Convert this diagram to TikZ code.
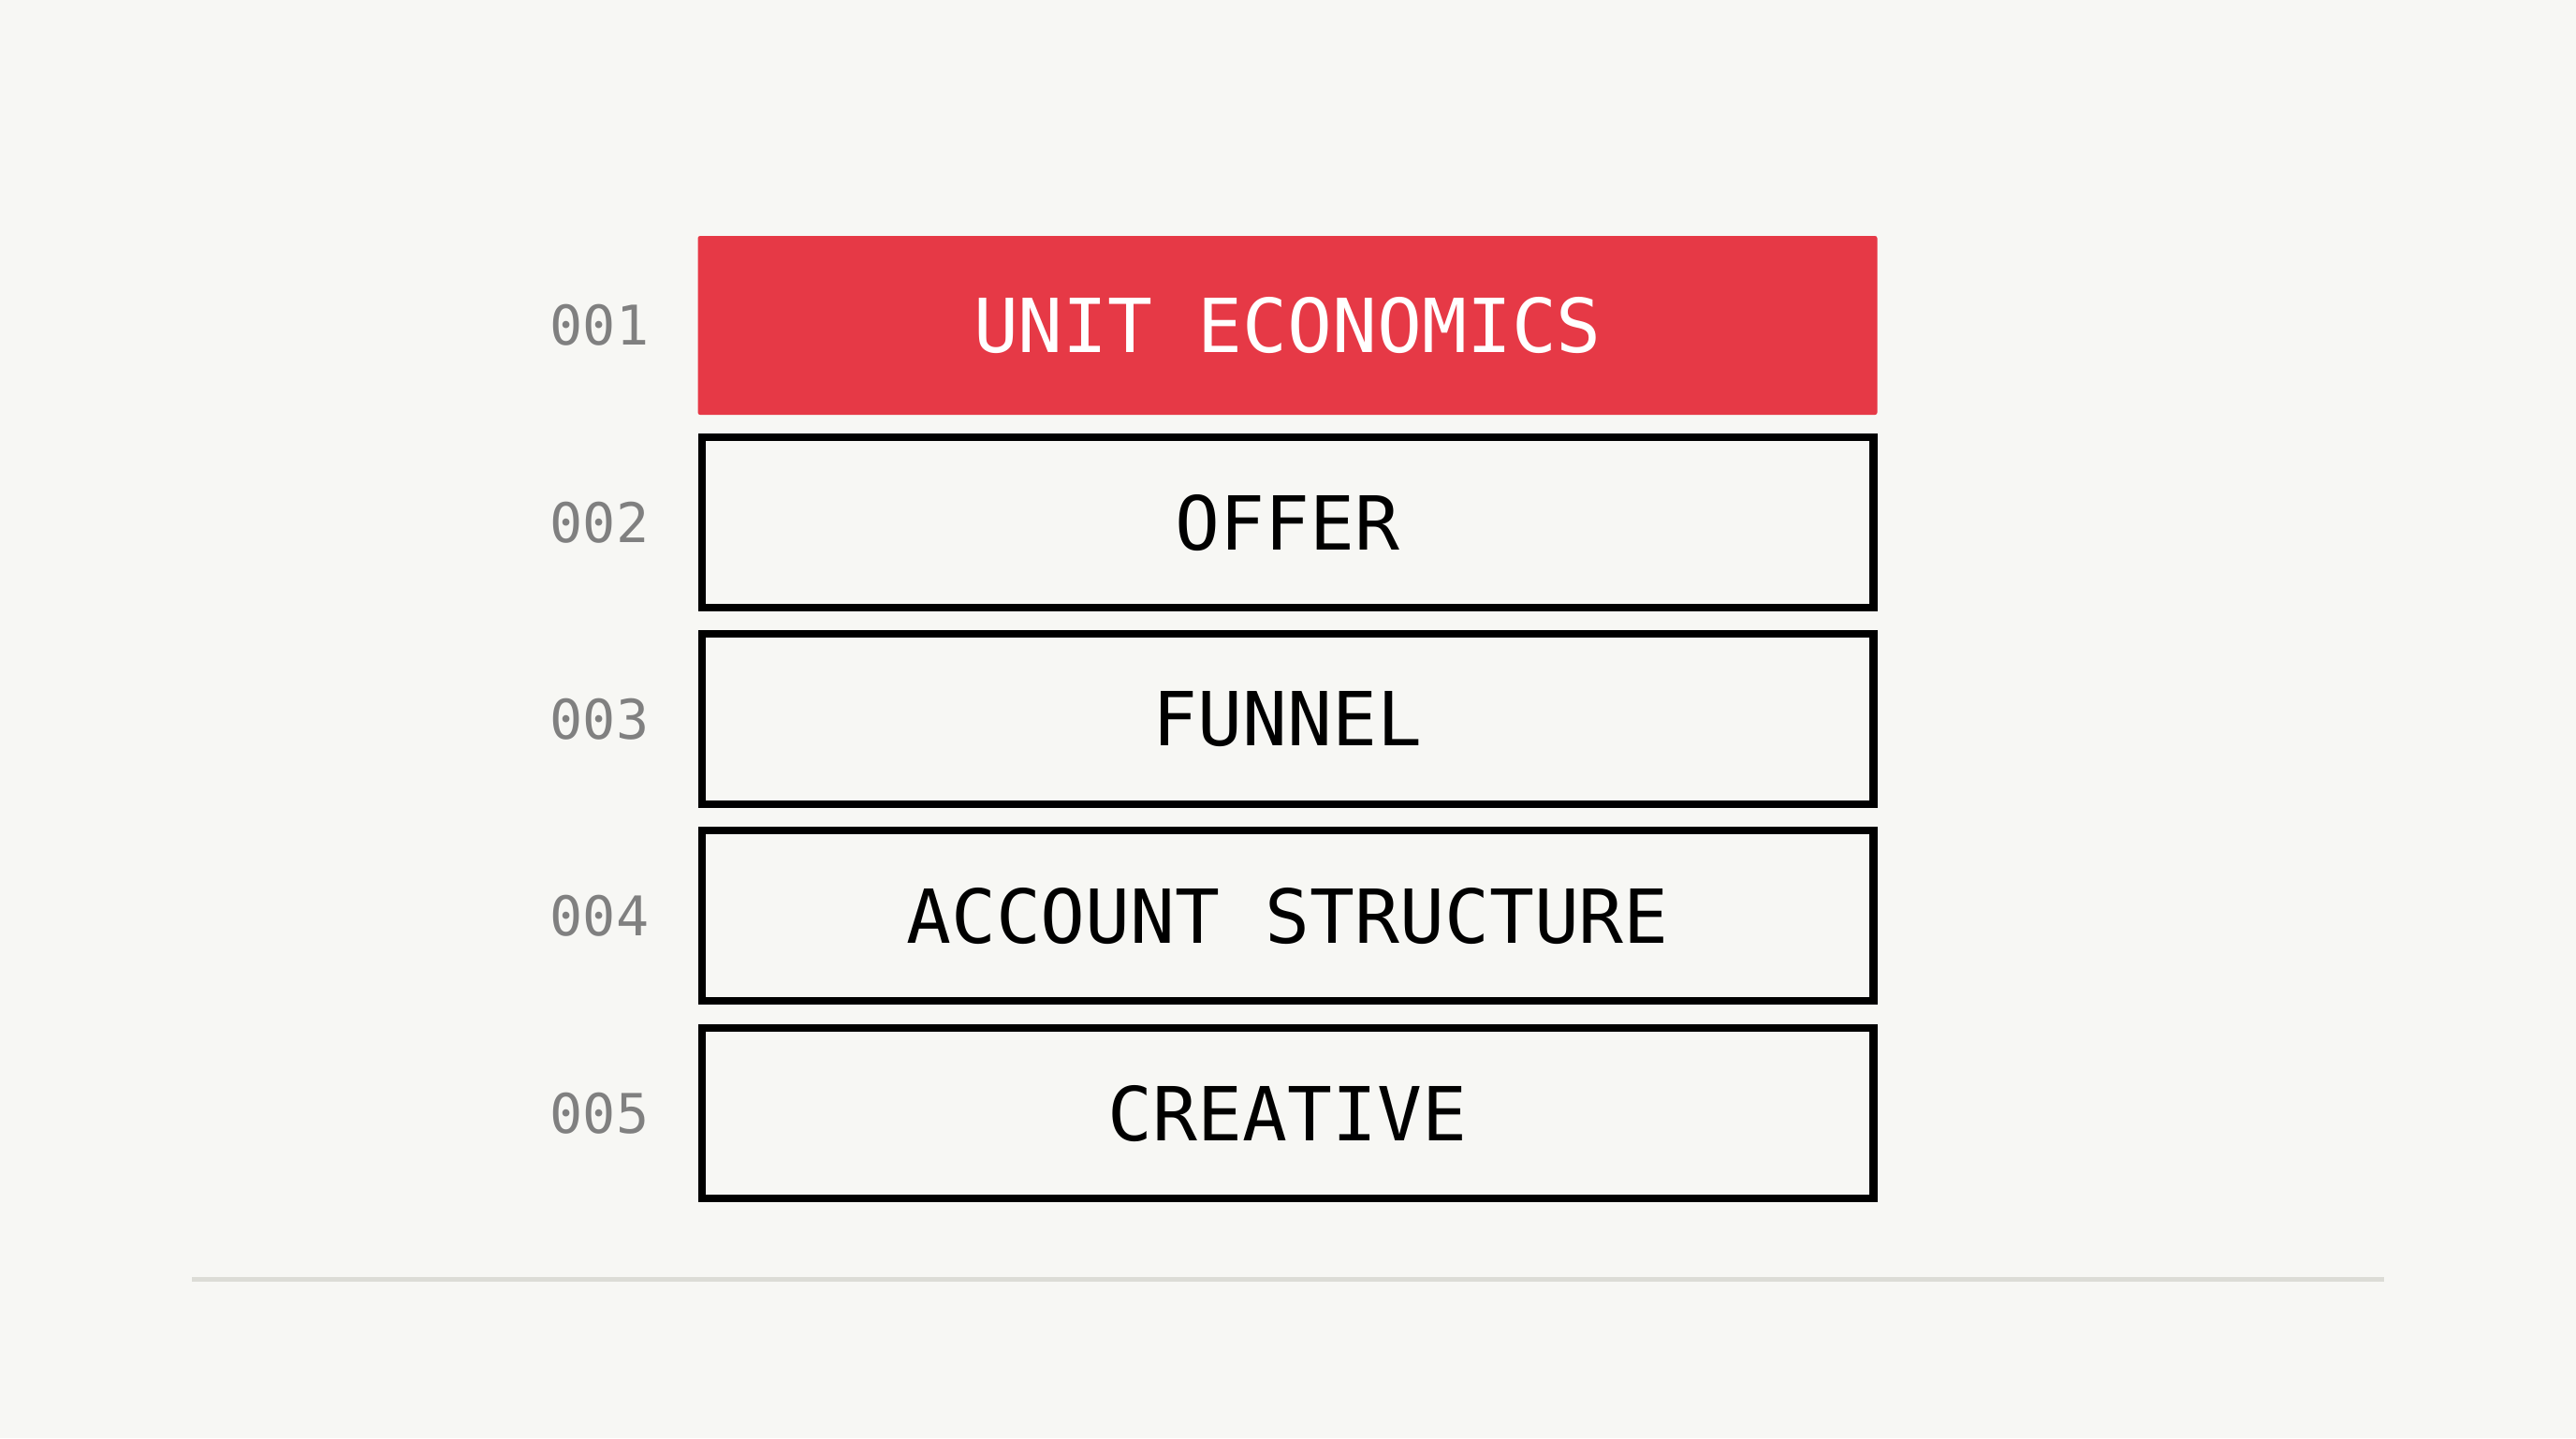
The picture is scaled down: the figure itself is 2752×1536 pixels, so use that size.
\documentclass[tikz,border=0pt]{standalone}
\usepackage{fontspec}
\newfontfamily\monof{DejaVu Sans Mono}
\definecolor{bgc}{HTML}{F7F7F4}
\definecolor{redc}{HTML}{E63946}
\definecolor{labc}{HTML}{808080}
\definecolor{rulec}{HTML}{DCDCD6}
\tikzset{
  layerbox/.style={draw=black, line width=2.1pt, fill=bgc, minimum width=312.9pt, minimum height=45.4pt, inner sep=0pt, font=\monof\fontsize{19.9pt}{22pt}\selectfont, text=black},
  topbox/.style={fill=redc, draw=none, rounded corners=0.6pt, minimum width=315pt, minimum height=47.75pt, inner sep=0pt, font=\monof\fontsize{19.9pt}{22pt}\selectfont, text=white},
  numlabel/.style={anchor=east, inner sep=0pt, font=\monof\fontsize{14.6pt}{16pt}\selectfont, text=labc}
}
\begin{document}
\begin{tikzpicture}[x=0.25pt,y=-0.25pt]
  \fill[bgc] (0,0) rectangle (2752,1536);
  \useasboundingbox (0,0) rectangle (2752,1536);
  \node[topbox]   (b1) at (1375.5,347.5) {UNIT ECONOMICS};
  \node[layerbox] (b2) at (1375.5,558) {OFFER};
  \node[layerbox] (b3) at (1375.5,768) {FUNNEL};
  \node[layerbox] (b4) at (1375.5,978) {ACCOUNT STRUCTURE};
  \node[layerbox] (b5) at (1375.5,1189) {CREATIVE};
  \node[numlabel] (l1) at (694,347.5) {001};
  \node[numlabel] (l2) at (694,558) {002};
  \node[numlabel] (l3) at (694,768) {003};
  \node[numlabel] (l4) at (694,978) {004};
  \node[numlabel] (l5) at (694,1189) {005};
  \coordinate (r1) at (205,1366);
  \coordinate (r2) at (2547,1366);
  \draw[rulec, line width=1.25pt] (r1) -- (r2);
\end{tikzpicture}
\end{document}
